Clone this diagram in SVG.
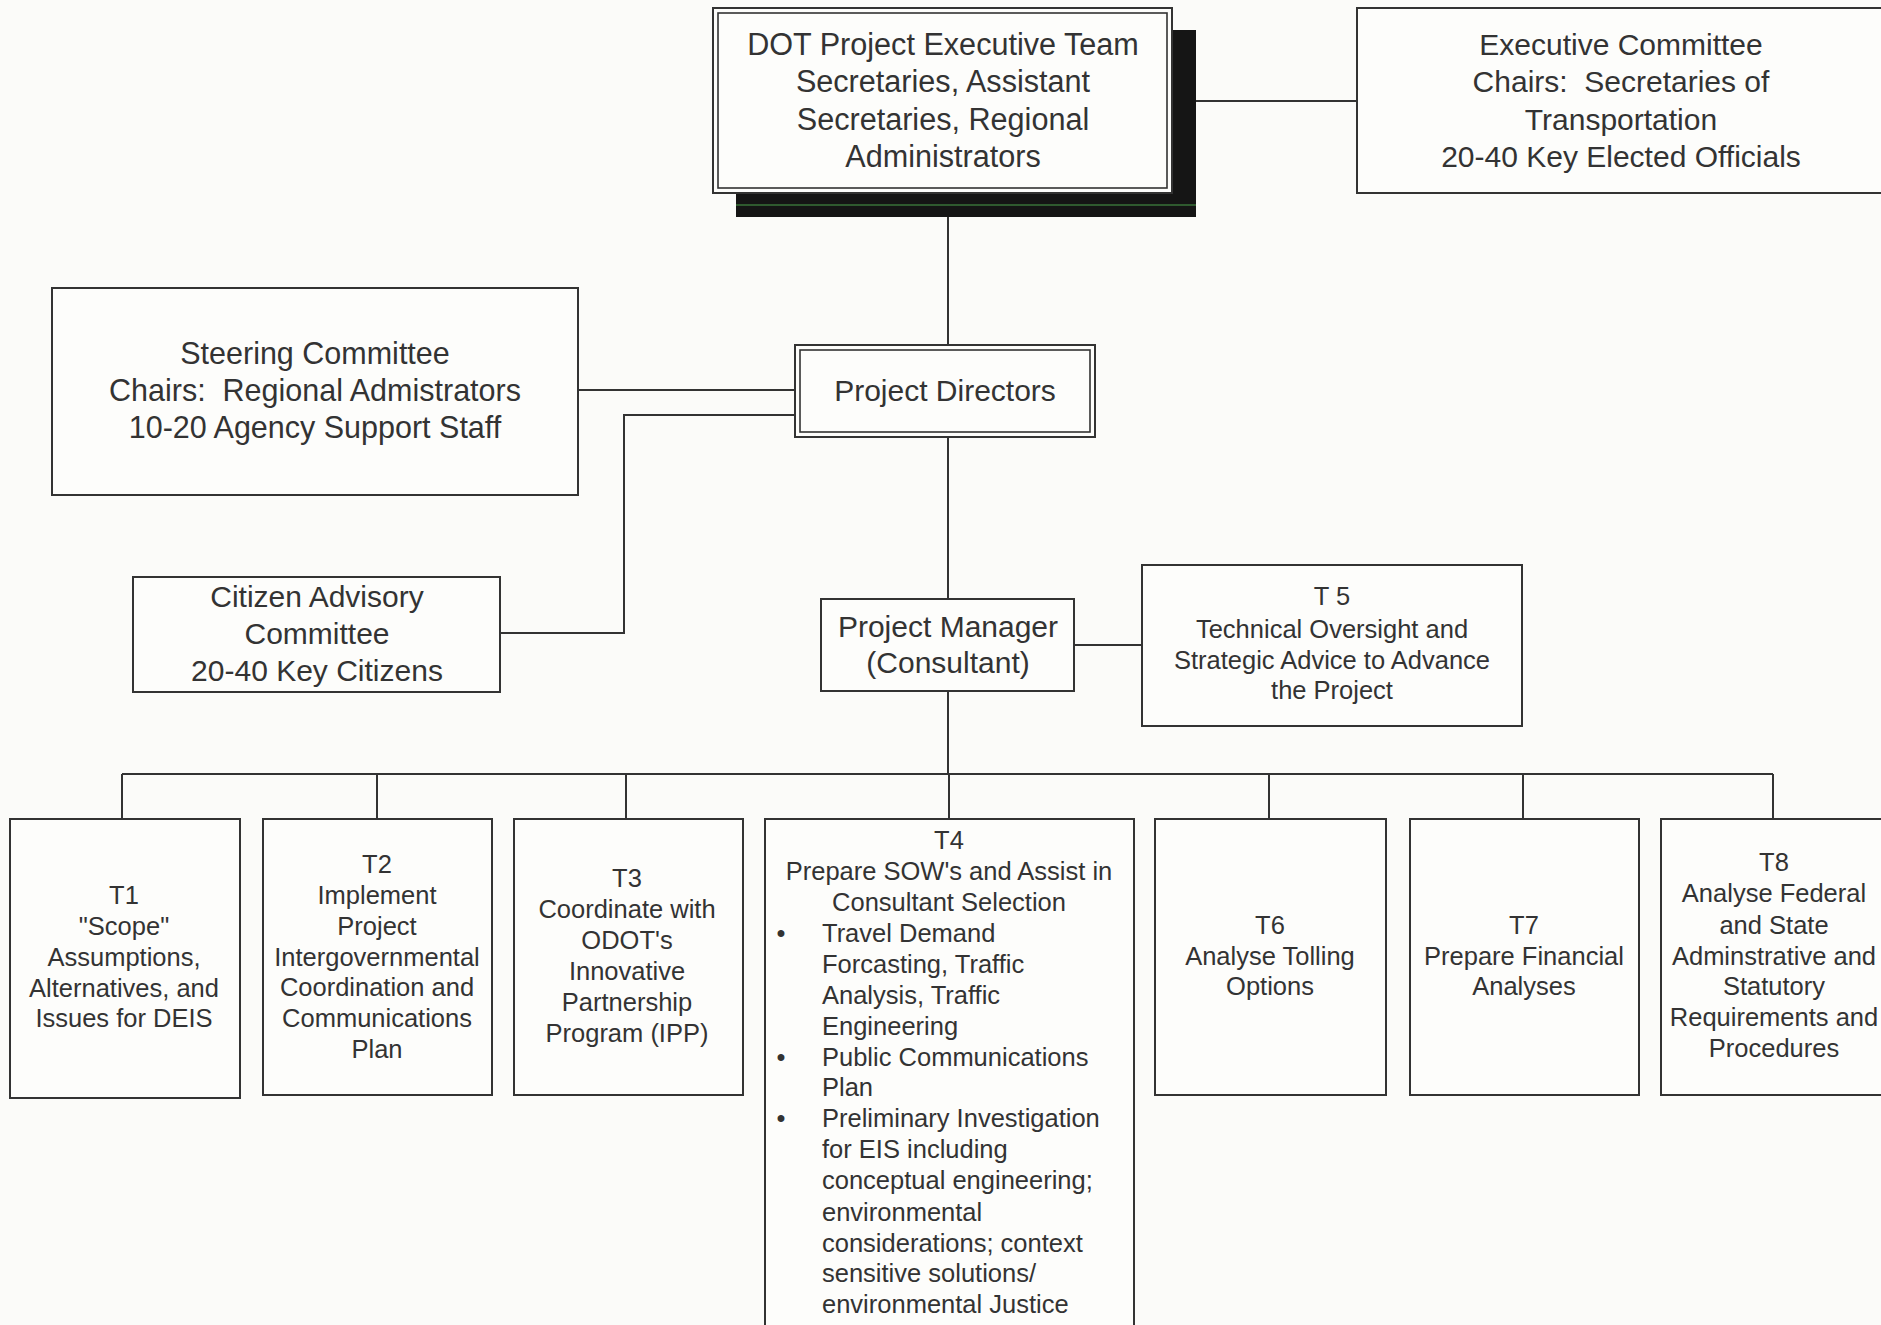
<svg xmlns="http://www.w3.org/2000/svg" width="1881" height="1325" viewBox="0 0 1881 1325">
<style>
.bg{fill:#fbfbf9}
.box{fill:#fdfdfb;stroke:#333;stroke-width:2}
.inner{fill:none;stroke:#333;stroke-width:1.6}
.lbl{font-family:"Liberation Sans",Arial,sans-serif;fill:#333;text-anchor:middle}
.big{font-size:30px}
.sm{font-size:25.5px}
.lt{text-anchor:start}
.conn line,.conn polyline{stroke:#333;stroke-width:2;fill:none}
</style>
<rect class="bg" x="0" y="0" width="1881" height="1325"/>
<g class="conn">
<line x1="1196" y1="101" x2="1357" y2="101"/>
<line x1="948" y1="217" x2="948" y2="345"/>
<line x1="578" y1="390" x2="795" y2="390"/>
<polyline points="795,415 624,415 624,633 500,633"/>
<line x1="948" y1="437" x2="948" y2="599"/>
<line x1="1074" y1="645" x2="1142" y2="645"/>
<line x1="948" y1="691" x2="948" y2="774"/>
<line x1="122" y1="774" x2="1773" y2="774"/>
<line x1="122" y1="774" x2="122" y2="819"/>
<line x1="377" y1="774" x2="377" y2="819"/>
<line x1="626" y1="774" x2="626" y2="819"/>
<line x1="949" y1="774" x2="949" y2="819"/>
<line x1="1269" y1="774" x2="1269" y2="819"/>
<line x1="1523" y1="774" x2="1523" y2="819"/>
<line x1="1773" y1="774" x2="1773" y2="819"/>
</g>
<g id="dot-exec-team">
<rect x="736" y="30" width="460" height="187" fill="#151515"/>
<line x1="736" y1="205" x2="1196" y2="205" stroke="#2f5a2f" stroke-width="2"/>
<rect class="box" x="713" y="8" width="459" height="185"/>
<rect class="inner" x="718" y="13" width="449" height="175"/>
<text class="lbl" style="font-size:30.6px" x="943"><tspan x="943" y="55">DOT Project Executive Team</tspan><tspan x="943" y="92">Secretaries, Assistant</tspan><tspan x="943" y="130">Secretaries, Regional</tspan><tspan x="943" y="167">Administrators</tspan></text>
</g>
<g id="executive-committee">
<rect class="box" x="1357" y="8" width="530" height="185"/>
<text class="lbl big" x="1621" xml:space="preserve"><tspan x="1621" y="55">Executive Committee</tspan><tspan x="1621" y="92">Chairs:  Secretaries of</tspan><tspan x="1621" y="130">Transportation</tspan><tspan x="1621" y="167">20-40 Key Elected Officials</tspan></text>
</g>
<g id="steering-committee">
<rect class="box" x="52" y="288" width="526" height="207"/>
<text class="lbl" style="font-size:30.5px" x="315" xml:space="preserve"><tspan x="315" y="364">Steering Committee</tspan><tspan x="315" y="401">Chairs:  Regional Admistrators</tspan><tspan x="315" y="438">10-20 Agency Support Staff</tspan></text>
</g>
<g id="project-directors">
<rect class="box" x="795" y="345" width="300" height="92"/>
<rect class="inner" x="800" y="350" width="290" height="82"/>
<text class="lbl big" x="945" y="401">Project Directors</text>
</g>
<g id="citizen-advisory">
<rect class="box" x="133" y="577" width="367" height="115"/>
<text class="lbl big" x="317"><tspan x="317" y="607">Citizen Advisory</tspan><tspan x="317" y="644">Committee</tspan><tspan x="317" y="681">20-40 Key Citizens</tspan></text>
</g>
<g id="project-manager">
<rect class="box" x="821" y="599" width="253" height="92"/>
<text class="lbl big" x="948"><tspan x="948" y="637">Project Manager</tspan><tspan x="948" y="673">(Consultant)</tspan></text>
</g>
<g id="t5">
<rect class="box" x="1142" y="565" width="380" height="161"/>
<text class="lbl sm" x="1332"><tspan x="1332" y="605">T 5</tspan><tspan x="1332" y="638">Technical Oversight and</tspan><tspan x="1332" y="669">Strategic Advice to Advance</tspan><tspan x="1332" y="699">the Project</tspan></text>
</g>
<g id="t1">
<rect class="box" x="10" y="819" width="230" height="279"/>
<text class="lbl sm" x="124"><tspan x="124" y="904">T1</tspan><tspan x="124" y="935">"Scope"</tspan><tspan x="124" y="966">Assumptions,</tspan><tspan x="124" y="997">Alternatives, and</tspan><tspan x="124" y="1027">Issues for DEIS</tspan></text>
</g>
<g id="t2">
<rect class="box" x="263" y="819" width="229" height="276"/>
<text class="lbl sm" x="377"><tspan x="377" y="873">T2</tspan><tspan x="377" y="904">Implement</tspan><tspan x="377" y="935">Project</tspan><tspan x="377" y="966">Intergovernmental</tspan><tspan x="377" y="996">Coordination and</tspan><tspan x="377" y="1027">Communications</tspan><tspan x="377" y="1058">Plan</tspan></text>
</g>
<g id="t3">
<rect class="box" x="514" y="819" width="229" height="276"/>
<text class="lbl sm" x="627"><tspan x="627" y="887">T3</tspan><tspan x="627" y="918">Coordinate with</tspan><tspan x="627" y="949">ODOT's</tspan><tspan x="627" y="980">Innovative</tspan><tspan x="627" y="1011">Partnership</tspan><tspan x="627" y="1042">Program (IPP)</tspan></text>
</g>
<g id="t4">
<rect class="box" x="765" y="819" width="369" height="512"/>
<text class="lbl sm" x="949"><tspan x="949" y="849">T4</tspan><tspan x="949" y="880">Prepare SOW's and Assist in</tspan><tspan x="949" y="911">Consultant Selection</tspan></text>
<text class="lbl sm" x="781"><tspan x="781" y="942">•</tspan><tspan x="781" y="1066">•</tspan><tspan x="781" y="1127">•</tspan></text>
<text class="lbl sm lt" x="822"><tspan x="822" y="942">Travel Demand</tspan><tspan x="822" y="973">Forcasting, Traffic</tspan><tspan x="822" y="1004">Analysis, Traffic</tspan><tspan x="822" y="1035">Engineering</tspan><tspan x="822" y="1066">Public Communications</tspan><tspan x="822" y="1096">Plan</tspan><tspan x="822" y="1127">Preliminary Investigation</tspan><tspan x="822" y="1158">for EIS including</tspan><tspan x="822" y="1189">conceptual engineering;</tspan><tspan x="822" y="1221">environmental</tspan><tspan x="822" y="1252">considerations; context</tspan><tspan x="822" y="1282">sensitive solutions/</tspan><tspan x="822" y="1313">environmental Justice</tspan></text>
</g>
<g id="t6">
<rect class="box" x="1155" y="819" width="231" height="276"/>
<text class="lbl sm" x="1270"><tspan x="1270" y="934">T6</tspan><tspan x="1270" y="965">Analyse Tolling</tspan><tspan x="1270" y="995">Options</tspan></text>
</g>
<g id="t7">
<rect class="box" x="1410" y="819" width="229" height="276"/>
<text class="lbl sm" x="1524"><tspan x="1524" y="934">T7</tspan><tspan x="1524" y="965">Prepare Financial</tspan><tspan x="1524" y="995">Analyses</tspan></text>
</g>
<g id="t8">
<rect class="box" x="1661" y="819" width="230" height="276"/>
<text class="lbl sm" x="1774"><tspan x="1774" y="871">T8</tspan><tspan x="1774" y="902">Analyse Federal</tspan><tspan x="1774" y="934">and State</tspan><tspan x="1774" y="965">Adminstrative and</tspan><tspan x="1774" y="995">Statutory</tspan><tspan x="1774" y="1026">Requirements and</tspan><tspan x="1774" y="1057">Procedures</tspan></text>
</g>
</svg>
